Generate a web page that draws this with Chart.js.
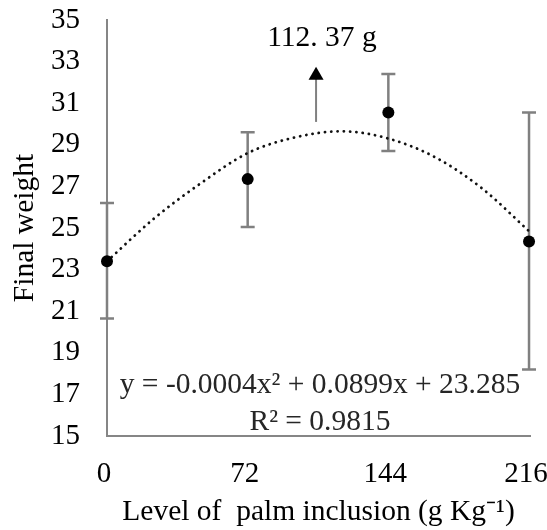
<!DOCTYPE html>
<html>
<head>
<meta charset="utf-8">
<script src="https://cdn.jsdelivr.net/npm/chart.js@4"></script>
<style>
  html, body { margin: 0; padding: 0; background: #ffffff; }
  canvas { display: block; }
</style>
</head>
<body>
<canvas id="c" width="547" height="530"></canvas>
<script>
// ---- data ----
const levels = [0, 72, 144, 216];
const xTickLabels = ['0', '72', '144', '216'];
const finalWeight = [23.4, 27.35, 30.55, 24.35];
const errLow = [20.65, 25.05, 28.7, 18.2];
const errHigh = [26.2, 29.6, 32.4, 30.55];
// dotted polynomial trend line
const trendX = [0, 24, 48, 72, 96, 120, 144, 168, 192, 216];
const trendY = [23.4, 25.45, 27.15, 28.6, 29.35, 29.65, 29.3, 28.4, 26.9, 24.85];
const yMin = 15, yMax = 35, yStep = 2;
const equationText = 'y = -0.0004x\u00B2 + 0.0899x + 23.285';
const r2Text = 'R\u00B2 = 0.9815';
const peakLabel = '112. 37 g';
const arrowAt = { x: 107, yFrom: 30.1, yTo: 32.75 };
const equationAt = { x: 109, y: 17.45 };
const r2At = { x: 109, y: 15.65 };
const peakLabelAt = { x: 110, y: 34.1 };

const serif = "'Liberation Serif', 'Times New Roman', serif";
const axisGray = '#868686';

const errorBars = {
  id: 'errorBars',
  beforeDatasetsDraw(chart) {
    const { ctx, scales: { x, y } } = chart;
    ctx.save();
    ctx.strokeStyle = '#808080';
    ctx.lineWidth = 2.5;
    const cap = 7;
    levels.forEach((lv, i) => {
      const px = x.getPixelForValue(lv);
      const top = y.getPixelForValue(errHigh[i]);
      const bot = y.getPixelForValue(errLow[i]);
      ctx.beginPath();
      ctx.moveTo(px, top); ctx.lineTo(px, bot);
      ctx.moveTo(px - cap, top); ctx.lineTo(px + cap, top);
      ctx.moveTo(px - cap, bot); ctx.lineTo(px + cap, bot);
      ctx.stroke();
    });
    ctx.restore();
  }
};

const annotations = {
  id: 'annotations',
  afterDatasetsDraw(chart) {
    const { ctx, scales: { x, y } } = chart;
    ctx.save();
    // arrow
    const ax = x.getPixelForValue(arrowAt.x);
    const ay0 = y.getPixelForValue(arrowAt.yFrom);
    const ay1 = y.getPixelForValue(arrowAt.yTo);
    ctx.strokeStyle = '#808080';
    ctx.lineWidth = 2;
    ctx.beginPath();
    ctx.moveTo(ax, ay0); ctx.lineTo(ax, ay1 + 12);
    ctx.stroke();
    ctx.fillStyle = '#000000';
    ctx.beginPath();
    ctx.moveTo(ax, ay1);
    ctx.lineTo(ax - 7.5, ay1 + 13);
    ctx.lineTo(ax + 7.5, ay1 + 13);
    ctx.closePath();
    ctx.fill();
    // texts
    ctx.textAlign = 'center';
    ctx.textBaseline = 'middle';
    ctx.font = '29.5px ' + serif;
    ctx.fillStyle = '#000000';
    ctx.fillText(peakLabel, x.getPixelForValue(peakLabelAt.x), y.getPixelForValue(peakLabelAt.y));
    ctx.fillStyle = '#262626';
    ctx.fillText(equationText, x.getPixelForValue(equationAt.x), y.getPixelForValue(equationAt.y));
    ctx.fillText(r2Text, x.getPixelForValue(r2At.x), y.getPixelForValue(r2At.y));
    ctx.restore();
  }
};

new Chart(document.getElementById('c'), {
  type: 'scatter',
  data: {
    datasets: [
      {
        label: 'Trend',
        data: trendX.map((v, i) => ({ x: v, y: trendY[i] })),
        showLine: true,
        borderColor: '#111111',
        borderWidth: 2.8,
        borderDash: [0.1, 6.2],
        borderCapStyle: 'round',
        cubicInterpolationMode: 'monotone',
        pointRadius: 0,
        clip: false,
        order: 2
      },
      {
        label: 'Final weight',
        data: levels.map((v, i) => ({ x: v, y: finalWeight[i] })),
        showLine: false,
        pointRadius: 6,
        pointBackgroundColor: '#000000',
        pointBorderColor: '#000000',
        pointBorderWidth: 0,
        clip: false,
        order: 1
      }
    ]
  },
  options: {
    responsive: false,
    devicePixelRatio: 1,
    animation: false,
    layout: { padding: { top: 20, right: 17, bottom: 0, left: 0 } },
    plugins: { legend: { display: false }, tooltip: { enabled: false } },
    scales: {
      x: {
        type: 'linear',
        min: 0,
        max: 216.5,
        afterBuildTicks(scale) { scale.ticks = levels.map(v => ({ value: v })); },
        afterFit(scale) { scale.height = 94; scale.paddingLeft = 0; scale.paddingRight = 0; },
        grid: { display: false, drawTicks: false },
        border: { display: true, color: axisGray, width: 2 },
        ticks: {
          font: { family: serif, size: 29 },
          color: '#000000',
          padding: 21,
          labelOffset: -3,
          maxRotation: 0,
          callback: (v) => xTickLabels[levels.indexOf(v)] ?? ''
        },
        title: {
          display: true,
          text: 'Level of  palm inclusion (g Kg\u207B\u00B9)',
          font: { family: serif, size: 29.5 },
          color: '#000000',
          padding: { top: 0, bottom: 0 }
        }
      },
      y: {
        min: yMin,
        max: yMax,
        afterFit(scale) { scale.width = 107; scale.paddingTop = 0; scale.paddingBottom = 0; },
        grid: { display: false, drawTicks: false },
        border: { display: true, color: axisGray, width: 2 },
        ticks: {
          stepSize: yStep,
          font: { family: serif, size: 29 },
          color: '#000000',
          padding: 27
        },
        title: {
          display: true,
          text: 'Final weight',
          font: { family: serif, size: 29.5 },
          color: '#000000',
          padding: { top: 8, bottom: 0 }
        }
      }
    }
  },
  plugins: [errorBars, annotations]
});
</script>
</body>
</html>
